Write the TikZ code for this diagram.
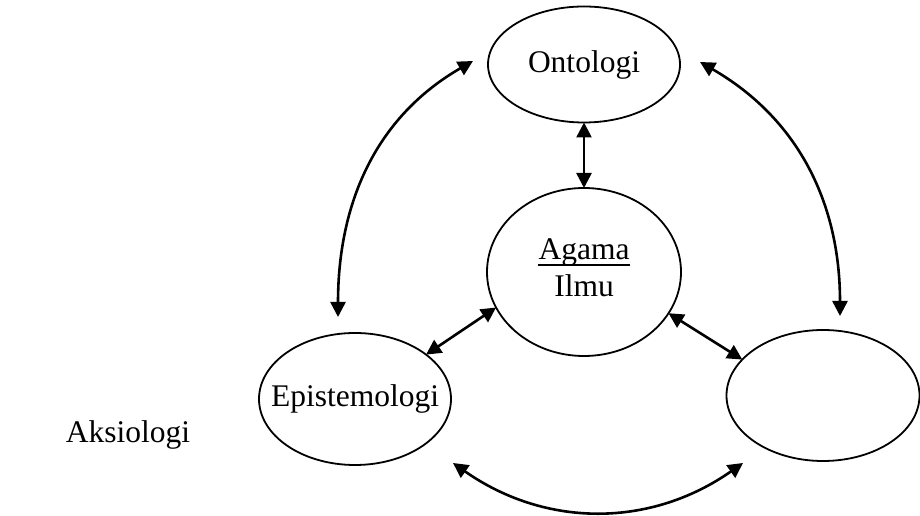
\documentclass[tikz,border=0pt]{standalone}
\usepackage{fontspec}
\setmainfont{Liberation Serif}
\usetikzlibrary{shapes.geometric,arrows.meta}
\begin{document}
\begin{tikzpicture}[x=1pt,y=1pt,
  oval/.style={draw,ellipse,line width=1.8pt,inner sep=0pt,outer sep=0pt},
  lbl/.style={font=\fontsize{31.5}{37}\selectfont,inner sep=0pt},
  head/.style={Triangle[length=15pt,width=15pt]},
  link/.style={line width=2.6pt,{Triangle[length=15pt,width=15pt]}-{Triangle[length=15pt,width=15pt]}}]
\useasboundingbox (0,0) rectangle (920,516);
% ellipses
\node[oval,minimum width=192pt,minimum height=116pt] (ont) at (584,451.5) {};
\node[oval,minimum width=194pt,minimum height=168pt] (aga) at (584,244) {};
\node[oval,minimum width=192pt,minimum height=132pt] (epi) at (355,117) {};
\node[oval,minimum width=193pt,minimum height=131pt] (rgt) at (823,120.5) {};
% texts
\node[lbl] (tont) at (ont) {Ontologi};
\node[lbl,anchor=base] (tag) at (584,256) {Agama};
\node[lbl,anchor=base] (til) at (584,219) {Ilmu};
\draw[line width=1.6pt] ([yshift=-5pt]tag.base west) -- ([yshift=-5pt]tag.base east);
\node[lbl] (tepi) at (epi) {Epistemologi};
\node[lbl] (taks) at (128,81) {Aksiologi};
% free ends of the curved connectors
\coordinate (l1) at (473,455);
\coordinate (l2) at (338,199);
\coordinate (r1) at (700,454);
\coordinate (r2) at (840,200);
\coordinate (b1) at (453,53);
\coordinate (b2) at (743,53);
% connectors
\draw[link] (ont.south) -- (aga.north);
\draw[link] (aga.202) -- (epi.32);
\draw[link] (aga.-26) -- (rgt.156);
\draw[link] (l1) to[out=210,in=90] (l2);
\draw[link] (r1) to[out=-30,in=90] (r2);
\draw[link] (b1) to[out=-35,in=215] (b2);
\end{tikzpicture}
\end{document}
